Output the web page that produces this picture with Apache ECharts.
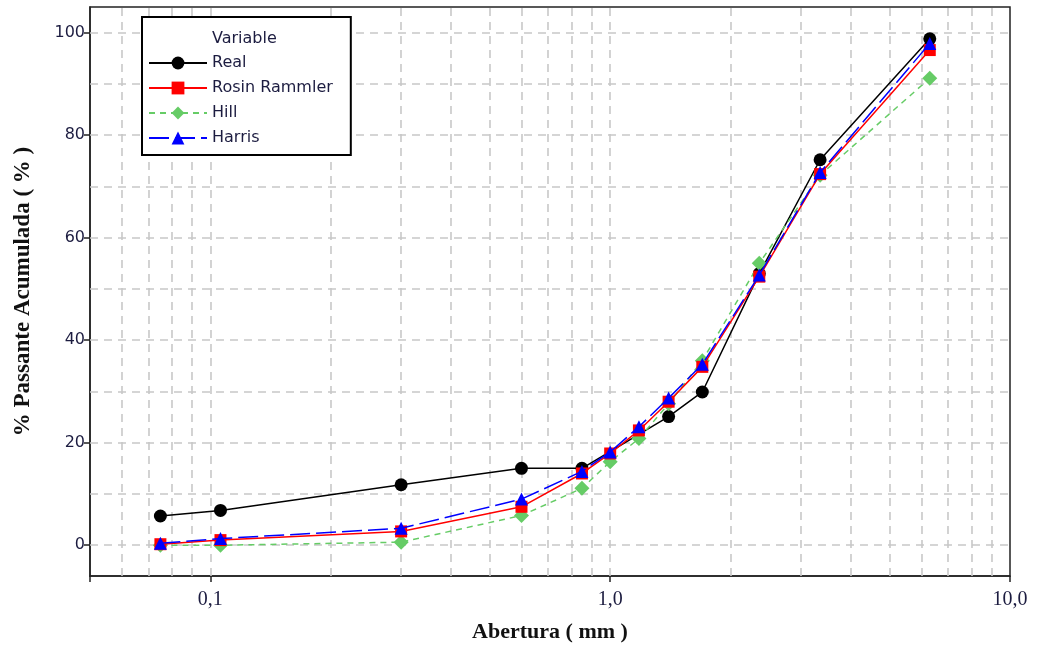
<!DOCTYPE html>
<html>
<head>
<meta charset="utf-8">
<script src="https://cdn.jsdelivr.net/npm/echarts@6/dist/echarts.min.js"></script>
<style>
html,body{margin:0;padding:0;background:#fff;}
#chart{width:1041px;height:648px;}
</style>
</head>
<body>
<div id="chart"></div>
<script>
// Sieve openings (mm)
const sieves = [0.075, 0.106, 0.3, 0.6, 0.85, 1.0, 1.18, 1.4, 1.7, 2.36, 3.35, 6.3];
// Measured data (Real) – only at these openings
const realX = [0.075, 0.106, 0.3, 0.6, 0.85, 1.4, 1.7, 2.36, 3.35, 6.3];
const realY = [5.7, 6.8, 11.8, 15.0, 15.0, 25.1, 29.9, 53.0, 75.2, 98.8];
// Model values at the sieve openings
const rosinY  = [0.2, 1.0, 2.7, 7.5, 14.0, 17.9, 22.4, 28.0, 34.8, 52.4, 72.4, 96.6];
const hillY   = [0.0, 0.0, 0.6, 5.8, 11.1, 16.3, 20.8, 27.6, 36.0, 55.0, 72.2, 91.1];
const harrisY = [0.4, 1.3, 3.3, 9.0, 14.4, 18.2, 23.1, 28.7, 35.3, 52.7, 72.7, 97.9];
// Axis tick / grid values
const yTicks = [0, 20, 40, 60, 80, 100];
const yGrid = [0, 10, 20, 30, 40, 50, 60, 70, 80, 90, 100];
const xGrid = [0.06, 0.07, 0.08, 0.09, 0.1, 0.2, 0.3, 0.4, 0.5, 0.6, 0.7, 0.8, 0.9, 1, 2, 3, 4, 5, 6, 7, 8, 9];
const seriesNames = ['Real', 'Rosin Rammler', 'Hill', 'Harris'];

const pairs = (xs, ys) => xs.map((x, i) => [x, ys[i]]);

const sansFont = '"DejaVu Sans", Verdana, sans-serif';
const serifFont = '"Liberation Serif", "Times New Roman", serif';
const textCol = '#1c1c40';

const gridLine = { color: '#c8c8c8', width: 1.6, type: [8, 6] };

const chart = echarts.init(document.getElementById('chart'), null, { renderer: 'canvas' });
chart.setOption({
  animation: false,
  backgroundColor: '#fff',
  title: {
    text: 'Variable',
    left: 207, top: 26, z: 12,
    textStyle: { fontFamily: sansFont, fontSize: 16, fontWeight: 'normal', color: textCol }
  },
  legend: {
    data: seriesNames,
    orient: 'vertical',
    left: 142, top: 17, z: 10,
    padding: [38, 18, 9, 6],
    itemWidth: 58, itemHeight: 16, itemGap: 9,
    borderColor: '#000', borderWidth: 2,
    textStyle: { fontFamily: sansFont, fontSize: 16, color: textCol },
    backgroundColor: '#fff'
  },
  grid: {
    left: 90, right: 31, top: 7, bottom: 72,
    show: true, borderColor: '#222', borderWidth: 1.5, containLabel: false
  },
  xAxis: {
    type: 'log', logBase: 10, min: 0.05, max: 10,
    name: 'Abertura ( mm )', nameLocation: 'middle', nameGap: 45,
    nameTextStyle: { fontFamily: serifFont, fontSize: 22, fontWeight: 'bold', color: '#111' },
    axisLine: { show: true, onZero: false, lineStyle: { color: '#222', width: 1.5 } },
    axisTick: { show: true, length: 6, lineStyle: { color: '#222', width: 1.5 } },
    axisLabel: {
      fontFamily: serifFont, fontSize: 20, color: textCol, margin: 14,
      formatter: function (v) {
        const l = Math.log10(v);
        if (Math.abs(l - Math.round(l)) > 1e-6) return '';
        return Math.pow(10, Math.round(l)).toFixed(1).replace('.', ',');
      }
    },
    splitLine: { show: false }
  },
  yAxis: {
    type: 'value', min: -6, max: 105,
    name: '% Passante Acumulada ( % )', nameLocation: 'middle', nameGap: 55,
    nameTextStyle: { fontFamily: serifFont, fontSize: 23, fontWeight: 'bold', color: '#111' },
    axisLine: { show: true, onZero: false, lineStyle: { color: '#222', width: 1.5 } },
    axisTick: { show: true, length: 6, customValues: yTicks, lineStyle: { color: '#222', width: 1.5 } },
    axisLabel: { customValues: yTicks, fontFamily: sansFont, fontSize: 16, color: textCol, margin: 5 },
    splitLine: { show: false }
  },
  series: [
    {
      name: '__grid', type: 'line', data: [], silent: true, z: 1,
      markLine: {
        silent: true, symbol: 'none', animation: false, z: 1,
        label: { show: false },
        lineStyle: gridLine,
        emphasis: { disabled: true },
        data: xGrid.map(v => ({ xAxis: v })).concat(yGrid.map(v => ({ yAxis: v })))
      }
    },
    {
      name: 'Real', type: 'line', z: 2,
      data: pairs(realX, realY),
      symbol: 'circle', symbolSize: 13,
      lineStyle: { color: '#000', width: 1.5, type: 'solid' },
      itemStyle: { color: '#000' }
    },
    {
      name: 'Rosin Rammler', type: 'line', z: 4,
      data: pairs(sieves, rosinY),
      symbol: 'rect', symbolSize: 12,
      lineStyle: { color: '#ff0000', width: 1.5, type: 'solid' },
      itemStyle: { color: '#ff0000' }
    },
    {
      name: 'Hill', type: 'line', z: 3,
      data: pairs(sieves, hillY),
      symbol: 'diamond', symbolSize: 15,
      lineStyle: { color: '#66cc66', width: 1.5, type: [6, 5] },
      itemStyle: { color: '#66cc66' }
    },
    {
      name: 'Harris', type: 'line', z: 5,
      data: pairs(sieves, harrisY),
      symbol: 'triangle', symbolSize: 13,
      lineStyle: { color: '#0000ff', width: 1.5, type: [20, 6] },
      itemStyle: { color: '#0000ff' }
    }
  ]
});
</script>
</body>
</html>
